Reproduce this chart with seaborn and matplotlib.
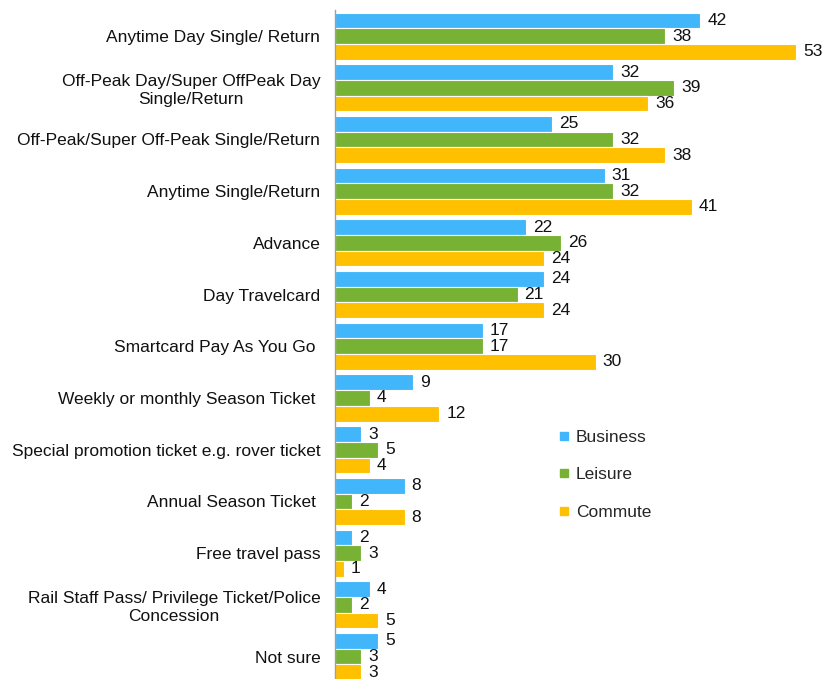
import pandas as pd
import matplotlib
matplotlib.use("Agg")
import matplotlib.pyplot as plt
import seaborn as sns
from matplotlib.lines import Line2D

# data
categories = [
    "Anytime Day Single/ Return",
    "Off-Peak Day/Super OffPeak Day\nSingle/Return",
    "Off-Peak/Super Off-Peak Single/Return",
    "Anytime Single/Return",
    "Advance",
    "Day Travelcard",
    "Smartcard Pay As You Go ",
    "Weekly or monthly Season Ticket ",
    "Special promotion ticket e.g. rover ticket",
    "Annual Season Ticket ",
    "Free travel pass",
    "Rail Staff Pass/ Privilege Ticket/Police\nConcession",
    "Not sure",
]
business = [42, 32, 25, 31, 22, 24, 17, 9, 3, 8, 2, 4, 5]
leisure = [38, 39, 32, 32, 26, 21, 17, 4, 5, 2, 3, 2, 3]
commute = [53, 36, 38, 41, 24, 24, 30, 12, 4, 8, 1, 5, 3]
series = ["Business", "Leisure", "Commute"]
colors = ["#41B6FB", "#77B234", "#FFC000"]

df = pd.DataFrame({"category": categories * 3,
                   "value": business + leisure + commute,
                   "series": [s for s in series for _ in categories]})

sns.set_style("white")
plt.rcParams["font.family"] = ["Liberation Sans", "DejaVu Sans"]

fig = plt.figure(figsize=(8.27, 6.79), dpi=100)
ax = fig.add_axes([0.405, -0.005, 0.589, 0.99])

sns.barplot(data=df, x="value", y="category", hue="series", order=categories,
            hue_order=series, palette=colors, saturation=1, orient="h",
            width=0.91, edgecolor="white", linewidth=0.8, ax=ax, legend=False)

for cont in ax.containers:
    ax.bar_label(cont, padding=5, fontsize=12.5, color="#111111")

ax.set_xlim(0, 56)
ax.set_ylim(len(categories) - 0.5, -0.5)
ax.set_xlabel("")
ax.set_ylabel("")
ax.set_xticks([])
for side in ["top", "right", "bottom"]:
    ax.spines[side].set_visible(False)
ax.spines["left"].set_color("#A0A0A0")
ax.spines["left"].set_linewidth(1)

ax.tick_params(axis="y", which="major", length=0, pad=10.5, labelsize=12.5,
               labelcolor="#111111")
ax.set_yticks([i + 0.5 for i in range(-1, len(categories))], minor=True)
ax.tick_params(axis="y", which="minor", length=5, color="#A0A0A0", direction="out")
for lab in ax.get_yticklabels():
    lab.set_multialignment("center")

handles = [Line2D([], [], marker="s", linestyle="", markersize=6,
                  markerfacecolor=c, markeredgecolor=c) for c in colors]
fig.legend(handles, series, loc="upper left", bbox_to_anchor=(0.652, 0.39),
           frameon=False, fontsize=12.5, labelspacing=1.28, handletextpad=0.2,
           handlelength=1.0)

fig.savefig("out.png", dpi=100)
